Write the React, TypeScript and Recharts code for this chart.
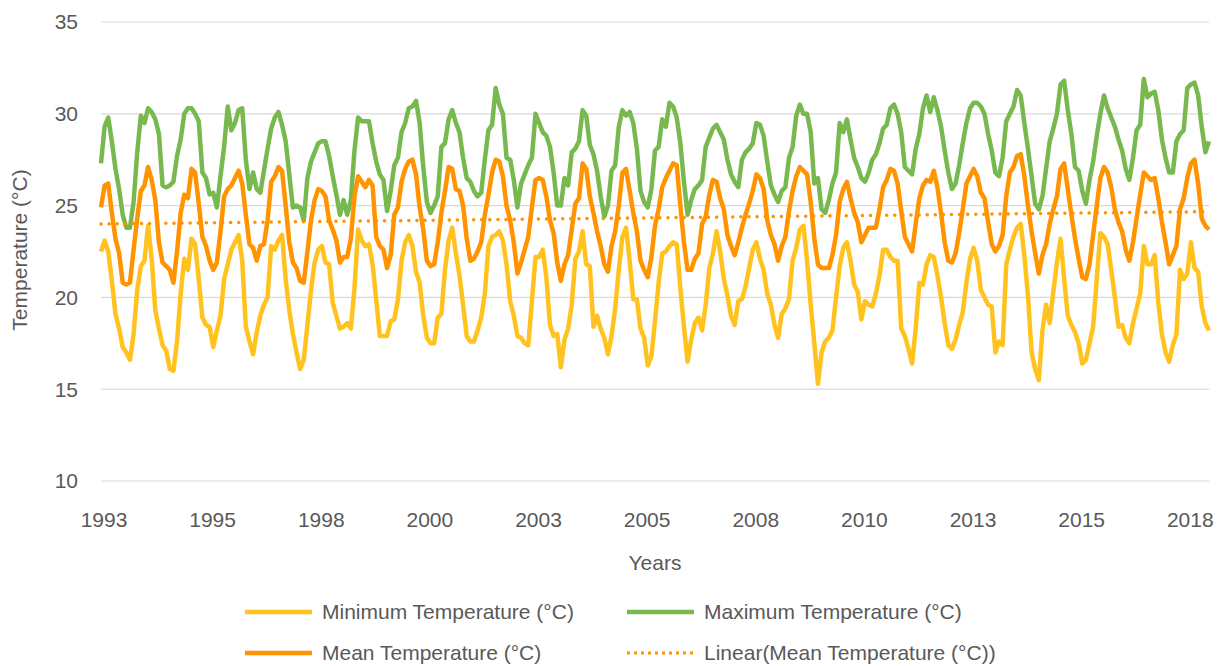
import React from 'react';
import { LineChart, Line, XAxis, YAxis, CartesianGrid } from 'recharts';

const FONT = '"Liberation Sans", Arial, Helvetica, sans-serif';
const TEXT = '#595959';
const C_MIN = '#FFC21F';
const C_MAX = '#78B94F';
const C_MEAN = '#FF9400';

// month index ticks (Jan 1993 = 0) and their labels
const xTicks = [0, 30, 60, 90, 120, 150, 180, 210, 240, 270, 300];
const xTickLabels = ['1993', '1995', '1998', '2000', '2003', '2005', '2008', '2010', '2013', '2015', '2018'];
const yTicks = [10, 15, 20, 25, 30, 35];

const minTemp = [
  22.5, 23.1, 22.5, 20.9, 19.1, 18.3, 17.3, 17.0, 16.6, 18.0,
  20.4, 21.7, 22.0, 23.9, 22.1, 19.3, 18.3, 17.4, 17.1, 16.1,
  16.0, 17.6, 20.2, 22.1, 21.5, 23.2,
  22.9, 21.0, 18.9, 18.5, 18.4, 17.3, 18.2, 19.0, 21.0, 21.8,
  22.6, 23.0, 23.4, 22.0, 18.4, 17.6, 16.9, 18.1, 19.0, 19.6,
  20.0, 22.8, 22.6, 23.1, 23.4, 21.0, 19.3, 18.0,
  17.0, 16.1, 16.6, 18.5, 20.4, 21.9, 22.6, 22.8, 21.9, 21.8,
  19.7, 19.0, 18.3, 18.4, 18.6, 18.3, 20.5, 23.7, 23.1, 22.8,
  22.9, 21.8, 19.9, 17.9, 17.9, 17.9, 18.7, 18.8,
  19.9, 22.0, 23.0, 23.4, 22.8, 21.4, 20.8, 19.0, 17.8, 17.5,
  17.5, 18.9, 19.1, 21.5, 23.1, 23.8, 22.4, 21.2, 19.6, 17.9,
  17.6, 17.6, 18.2, 18.9, 20.2, 22.8, 23.3, 23.4,
  23.6, 23.1, 21.8, 19.8, 19.0, 17.9, 17.8, 17.5, 17.4, 19.8,
  22.2, 22.2, 22.6, 21.1, 18.5, 17.9, 18.0, 16.2, 17.7, 18.3,
  19.6, 22.1, 22.5, 23.6, 21.8, 21.7, 18.4, 19.0,
  18.3, 17.8, 16.9, 17.9, 19.4, 21.5, 23.3, 23.8, 22.0, 19.9,
  19.9, 18.3, 17.8, 16.3, 16.8, 18.7, 20.8, 22.4, 22.5, 22.8,
  23.0, 22.9, 20.5, 18.4, 16.5, 17.7, 18.6, 18.9,
  18.2, 19.6, 21.6, 22.4, 23.6, 22.5, 21.0, 20.1, 19.0, 18.5,
  19.8, 19.9, 20.6, 21.6, 22.6, 23.0, 22.1, 21.5, 20.2, 19.6,
  18.5, 17.8, 19.1, 19.4, 19.9, 22.0, 22.7, 23.7,
  23.9, 22.0, 19.6, 17.5, 15.3, 17.0, 17.6, 17.8, 18.2, 20.0,
  21.7, 22.7, 23.0, 22.0, 20.7, 20.3, 18.8, 19.8, 19.6, 19.5,
  20.2, 21.2, 22.6, 22.6, 22.2, 22.0, 22.0, 18.3,
  17.9, 17.2, 16.4, 18.3, 20.8, 20.7, 21.8, 22.3, 22.2, 21.2,
  20.0, 18.6, 17.4, 17.2, 17.7, 18.5, 19.2, 20.8, 22.1, 22.7,
  22.0, 20.4, 20.0, 19.6, 19.5, 17.0, 17.6, 17.4, 21.8,
  22.6, 23.3, 23.8, 24.0, 22.3, 20.1, 17.0, 16.1, 15.5, 18.2,
  19.6, 18.6, 20.3, 21.9, 23.2, 21.0, 19.0, 18.5, 18.1, 17.5,
  16.4, 16.6, 17.5, 18.4, 21.0, 23.5, 23.3, 22.9,
  21.5, 20.0, 18.4, 18.5, 17.8, 17.5, 18.6, 19.4, 20.2, 22.8,
  21.8, 21.8, 22.3, 19.7, 18.0, 17.0, 16.5, 17.4, 18.0, 21.5,
  21.0, 21.3, 23.0, 21.6, 21.4, 19.5, 18.6, 18.2,
];

const maxTemp = [
  27.3, 29.3, 29.8, 28.5, 27.0, 25.9, 24.5, 23.8, 23.8, 25.2,
  27.9, 29.9, 29.5, 30.3, 30.1, 29.7, 28.9, 26.1, 26.0, 26.1,
  26.3, 27.7, 28.6, 30.0, 30.3, 30.3,
  30.0, 29.6, 26.8, 26.5, 25.6, 25.7, 24.9, 26.6, 28.2, 30.4,
  29.1, 29.5, 30.2, 30.3, 27.5, 25.9, 26.8, 25.9, 25.7, 26.9,
  28.1, 29.2, 29.8, 30.1, 29.4, 28.5, 26.7, 24.9,
  25.0, 24.9, 24.2, 26.5, 27.4, 27.9, 28.4, 28.5, 28.5, 27.7,
  26.6, 25.6, 24.5, 25.3, 24.5, 25.3, 28.0, 29.8, 29.6, 29.6,
  29.6, 28.4, 27.4, 26.7, 26.4, 24.7, 25.8, 27.2,
  27.6, 29.0, 29.5, 30.3, 30.4, 30.7, 29.5, 27.1, 25.2, 24.6,
  25.0, 25.5, 28.2, 28.4, 29.7, 30.2, 29.5, 29.0, 27.6, 26.5,
  26.3, 25.8, 25.5, 25.7, 27.5, 29.1, 29.4, 31.4,
  30.5, 30.0, 27.6, 27.5, 26.4, 24.9, 26.2, 26.7, 27.2, 27.6,
  30.0, 29.5, 29.0, 28.8, 28.2, 26.8, 25.0, 25.0, 26.5, 26.1,
  27.9, 28.1, 28.5, 30.2, 29.9, 28.3, 27.8, 26.9,
  25.5, 24.4, 25.0, 26.9, 27.2, 29.3, 30.2, 29.9, 30.1, 29.5,
  28.1, 25.8, 25.2, 24.9, 25.9, 28.0, 28.2, 29.7, 29.3, 30.6,
  30.4, 29.8, 28.4, 26.3, 24.5, 25.3, 25.9, 26.1,
  26.4, 28.2, 28.7, 29.2, 29.4, 29.0, 28.6, 27.5, 26.7, 26.3,
  26.0, 27.5, 27.9, 28.1, 28.4, 29.5, 29.4, 28.8, 27.4, 26.1,
  25.6, 25.2, 25.8, 26.0, 27.6, 28.2, 29.9, 30.5,
  30.0, 30.0, 29.0, 26.2, 26.5, 24.8, 24.6, 25.3, 26.2, 26.8,
  29.5, 29.0, 29.7, 28.6, 27.6, 27.1, 26.5, 26.3, 26.8, 27.5,
  27.8, 28.4, 29.2, 29.4, 30.3, 30.5, 30.0, 29.0,
  27.1, 26.9, 26.7, 28.1, 28.9, 30.3, 31.0, 30.1, 30.9, 30.2,
  29.3, 28.0, 26.8, 25.9, 26.2, 27.2, 28.4, 29.5, 30.3, 30.6,
  30.6, 30.4, 30.0, 28.9, 28.0, 26.8, 26.6, 27.6, 29.6,
  30.0, 30.4, 31.3, 31.0, 29.5, 28.1, 26.6, 25.1, 24.8, 25.5,
  27.0, 28.5, 29.2, 30.0, 31.6, 31.8, 30.2, 28.9, 27.1, 26.9,
  25.8, 25.1, 26.4, 27.4, 28.8, 30.0, 31.0, 30.3,
  29.8, 29.3, 28.6, 28.0, 27.0, 26.4, 27.6, 29.1, 29.4, 31.9,
  30.9, 31.1, 31.2, 30.2, 28.6, 27.6, 26.8, 26.8, 28.5, 28.9,
  29.1, 31.4, 31.6, 31.7, 31.0, 29.3, 27.9, 28.5,
];

const meanTemp = [
  24.9, 26.1, 26.2, 24.6, 23.2, 22.4, 20.8, 20.7, 20.8, 22.6,
  24.3, 25.8, 26.1, 27.1, 26.4, 25.3, 23.0, 21.9, 21.7, 21.5,
  20.8, 22.5, 24.6, 25.6, 25.4, 27.0,
  26.8, 25.1, 23.3, 22.8, 22.0, 21.5, 21.9, 23.6, 25.5, 25.9,
  26.1, 26.5, 26.9, 26.2, 24.5, 22.9, 22.7, 22.0, 22.8, 22.9,
  24.2, 26.3, 26.6, 27.1, 26.9, 25.0, 23.0, 21.9,
  21.6, 20.9, 20.8, 22.5, 24.2, 25.3, 25.9, 25.8, 25.5, 24.2,
  23.7, 23.1, 21.9, 22.2, 22.2, 23.2, 25.5, 26.6, 26.3, 26.0,
  26.4, 26.1, 23.3, 22.8, 22.6, 21.6, 22.3, 24.5,
  24.9, 26.3, 27.0, 27.4, 27.5, 26.7, 24.9, 23.7, 22.0, 21.7,
  21.8, 23.0, 24.6, 25.8, 27.1, 27.0, 25.9, 25.8, 25.0, 23.2,
  22.0, 22.1, 22.5, 23.0, 24.5, 25.6, 26.8, 27.5,
  27.4, 26.6, 25.0, 24.2, 23.0, 21.3, 21.9, 22.6, 23.3, 24.9,
  26.4, 26.5, 26.4, 25.5, 24.2, 23.5, 21.9, 20.9, 21.8, 22.3,
  23.7, 25.1, 25.4, 27.3, 27.0, 25.5, 24.6, 23.6,
  22.8, 21.8, 21.4, 22.8, 23.6, 25.0, 26.8, 27.0, 25.8, 24.6,
  23.6, 22.0, 21.5, 21.1, 22.2, 23.9, 24.8, 26.0, 26.5, 26.9,
  27.3, 27.2, 25.0, 23.0, 21.5, 21.5, 22.1, 22.4,
  24.0, 24.4, 25.6, 26.4, 26.3, 25.4, 24.8, 23.4, 22.8, 22.3,
  23.0, 23.8, 24.5, 25.1, 25.8, 26.7, 26.5, 25.9, 24.2, 23.4,
  22.9, 22.0, 22.8, 23.3, 24.7, 25.8, 26.6, 27.1,
  26.9, 26.7, 25.2, 23.2, 21.8, 21.6, 21.6, 21.6, 22.3, 23.4,
  25.2, 25.9, 26.3, 25.4, 24.6, 24.1, 23.0, 23.4, 23.8, 23.8,
  23.8, 24.8, 26.0, 26.4, 27.0, 26.9, 26.2, 24.7,
  23.3, 22.9, 22.5, 24.0, 25.4, 26.1, 26.4, 26.3, 26.9, 26.0,
  24.6, 23.0, 22.0, 21.9, 22.4, 23.5, 24.8, 26.2, 26.6, 27.0,
  26.6, 25.7, 25.4, 24.1, 22.9, 22.5, 22.8, 23.4, 25.5,
  26.8, 27.1, 27.7, 27.8, 26.6, 25.0, 23.6, 22.4, 21.3, 22.3,
  22.9, 24.0, 24.8, 25.5, 27.0, 27.3, 25.9, 24.5, 23.2, 22.1,
  21.1, 21.0, 21.8, 23.4, 25.0, 26.5, 27.1, 26.8,
  26.0, 24.8, 24.1, 23.6, 22.6, 22.0, 23.0, 24.3, 25.6, 26.8,
  26.6, 26.4, 26.5, 25.4, 24.1, 23.0, 21.8, 22.3, 22.8, 24.8,
  25.4, 26.5, 27.3, 27.5, 26.2, 24.3, 23.9, 23.7,
];

// Linear trend of the mean series: value at first and last month
const trendEnds = [24.0, 24.67];

const lastIndex = meanTemp.length - 1;
const data = meanTemp.map((m, i) => ({
  i,
  min: minTemp[i],
  max: maxTemp[i],
  mean: m,
  trend: i === 0 ? trendEnds[0] : i === lastIndex ? trendEnds[1] : null,
}));

const tickStyle = { fill: TEXT, fontSize: 21, fontFamily: FONT };

const legendItems = [
  { label: 'Minimum Temperature (°C)', color: C_MIN, dotted: false, left: 245, top: 612 },
  { label: 'Maximum Temperature (°C)', color: C_MAX, dotted: false, left: 627, top: 612 },
  { label: 'Mean Temperature (°C)', color: C_MEAN, dotted: false, left: 245, top: 653 },
  { label: 'Linear(Mean Temperature (°C))', color: C_MEAN, dotted: true, left: 627, top: 653 },
];

export default function App() {
  return (
    <div style={{ position: 'absolute', left: 0, top: 0, width: 1220, height: 666, background: '#fff', fontFamily: FONT }}>
      <LineChart width={1220} height={666} data={data} margin={{ top: 22, right: 11, bottom: 125, left: 0 }}>
        <CartesianGrid horizontal={true} vertical={false} stroke="#D9D9D9" strokeWidth={1.2} />
        <XAxis
          dataKey="i"
          type="number"
          domain={[0, 306]}
          ticks={xTicks}
          tickFormatter={(v: number) => xTickLabels[xTicks.indexOf(v)] ?? ''}
          axisLine={false}
          tickLine={false}
          tickSize={0}
          tickMargin={31}
          height={60}
          interval={0}
          tick={{ ...tickStyle, dx: 3 }}
        />
        <YAxis
          type="number"
          domain={[10, 35]}
          ticks={yTicks}
          axisLine={false}
          tickLine={false}
          tickSize={0}
          tickMargin={23}
          width={101}
          interval={0}
          tick={tickStyle}
        />
        <Line dataKey="min" stroke={C_MIN} strokeWidth={4.5} dot={false} activeDot={false} isAnimationActive={false} strokeLinejoin="round" type="linear" />
        <Line dataKey="max" stroke={C_MAX} strokeWidth={4.5} dot={false} activeDot={false} isAnimationActive={false} strokeLinejoin="round" type="linear" />
        <Line dataKey="mean" stroke={C_MEAN} strokeWidth={4.5} dot={false} activeDot={false} isAnimationActive={false} strokeLinejoin="round" type="linear" />
        <Line dataKey="trend" stroke={C_MEAN} strokeWidth={3.5} strokeDasharray="0.1 8" strokeLinecap="round" dot={false} activeDot={false} isAnimationActive={false} connectNulls type="linear" />
      </LineChart>

      <div style={{ position: 'absolute', left: -80, top: 238, width: 200, height: 24, lineHeight: '24px', textAlign: 'center', transform: 'rotate(-90deg)', color: TEXT, fontSize: 21, whiteSpace: 'nowrap' }}>
        Temperature (°C)
      </div>
      <div style={{ position: 'absolute', left: 555, top: 551, width: 200, height: 24, lineHeight: '24px', textAlign: 'center', color: TEXT, fontSize: 21 }}>
        Years
      </div>

      {legendItems.map((it) => (
        <div key={it.label} style={{ position: 'absolute', left: it.left, top: it.top - 12, height: 24, display: 'flex', alignItems: 'center', whiteSpace: 'nowrap' }}>
          <svg width={67} height={10} style={{ display: 'block' }}>
            <line x1={0} y1={5} x2={67} y2={5} stroke={it.color} strokeWidth={it.dotted ? 3 : 4.5} strokeDasharray={it.dotted ? '3 4' : undefined} />
          </svg>
          <span style={{ marginLeft: 10, color: TEXT, fontSize: 21, lineHeight: '24px' }}>{it.label}</span>
        </div>
      ))}
    </div>
  );
}
